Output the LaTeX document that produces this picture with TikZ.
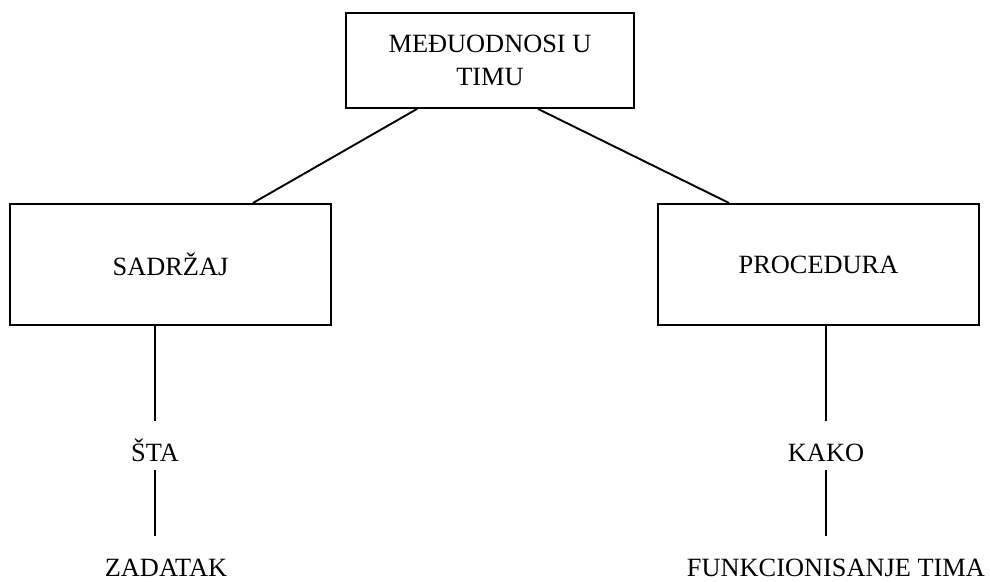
\documentclass[tikz,border=0pt]{standalone}
\usepackage{fontspec}
\setmainfont{Liberation Serif}
\begin{document}
\begin{tikzpicture}[line width=0.9pt,
  box/.style={draw,minimum width=5.35cm,minimum height=2.017cm,inner sep=0pt,font=\fontsize{12.5}{15.6}\selectfont},
  word/.style={inner sep=0pt,text height=0.665cm,text depth=0.117cm,anchor=base,font=\fontsize{12.5}{15.6}\selectfont}]
\useasboundingbox (0,0) rectangle (16.5,9.7);
\node[box,minimum width=4.8cm,minimum height=1.583cm,align=center] (medjuodnosi) at (8.167,8.692) {MEĐUODNOSI U\\TIMU};
\node[box] (sadrzaj) at (2.842,5.292) {SADRŽAJ};
\node[box] (procedura) at (13.642,5.292) {PROCEDURA};
\node[word] (sta) at (2.583,2.0) {ŠTA};
\node[word] (kako) at (13.767,2.0) {KAKO};
\node[word] (zadatak) at (2.767,0.09) {ZADATAK};
\node[word] (funkcionisanje) at (13.933,0.09) {FUNKCIONISANJE TIMA};
\draw ([xshift=1.2cm]medjuodnosi.south west) -- ([xshift=-1.317cm]sadrzaj.north east);
\draw ([xshift=0.8cm]medjuodnosi.south) -- ([xshift=1.2cm]procedura.north west);
\draw (sta.north |- sadrzaj.south) -- (sta.north);
\draw (sta.south) -- (sta.south |- zadatak.north);
\draw (kako.north |- procedura.south) -- (kako.north);
\draw (kako.south) -- (kako.south |- funkcionisanje.north);
\end{tikzpicture}
\end{document}
